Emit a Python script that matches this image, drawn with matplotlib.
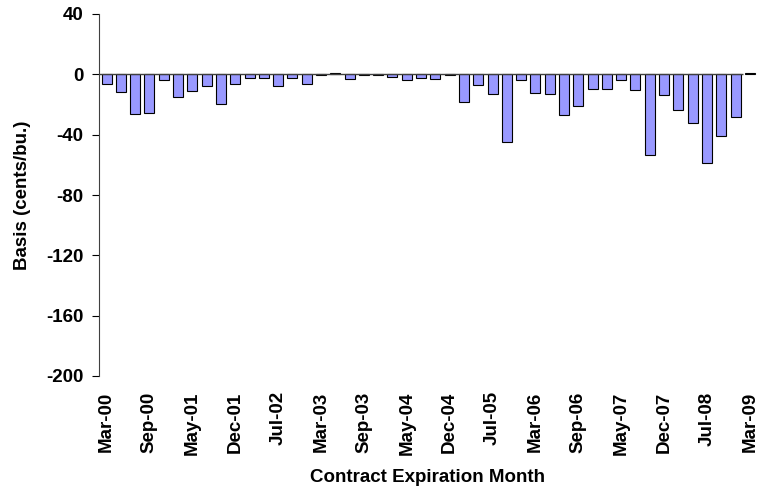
import matplotlib
matplotlib.use("Agg")
import matplotlib.pyplot as plt
import numpy as np

plt.rcParams['font.family'] = ['Liberation Sans', 'DejaVu Sans']

months = ["Mar", "May", "Jul", "Sep", "Dec"]
contracts = [f"{m}-{y:02d}" for y in range(0, 9) for m in months] + ["Mar-09"]

basis = [-6.2, -11.8, -26.0, -25.5, -4.0,
         -15.0, -11.3, -7.8, -20.0, -6.2,
         -2.2, -2.2, -7.8, -2.2, -6.2,
         -0.5, 1.0, -3.0, -0.5, -0.5,
         -1.8, -3.5, -2.2, -2.9, -0.5,
         -18.4, -7.3, -12.9, -44.9, -3.5,
         -12.4, -13.3, -26.7, -20.7, -9.5,
         -9.5, -4.0, -10.7, -53.3, -14.0,
         -23.5, -32.2, -58.9, -41.1, -28.4,
         1.0]

tick_labels = contracts[::3]
yticks = list(range(-200, 41, 40))

fig = plt.figure(figsize=(7.58, 4.88), dpi=100)
ax = fig.add_axes([99/758, 1-376/488, (757-99)/758, (376-14)/488])

x = np.arange(len(basis))
ax.bar(x, basis, width=0.7, color="#9999FF", edgecolor="black", linewidth=0.8, zorder=2)
xmin, xmax = -0.53, 45.5
ax.hlines(0, xmin, len(basis) - 1.5, color="#404040", linewidth=1.0, zorder=3)

ax.set_ylim(-200, 40)
ax.set_xlim(xmin, xmax)
ax.set_yticks(yticks)
ax.set_yticklabels([str(v) for v in yticks], fontsize=13.5, fontweight="bold")
ax.set_xticks(x[::3])
ax.set_xticklabels(tick_labels, rotation=90, fontsize=13.5, fontweight="bold")
ax.tick_params(axis="x", length=0, pad=11)
ax.tick_params(axis="y", length=5, width=0.8, direction="out", pad=6)

for s in ["top", "right", "bottom"]:
    ax.spines[s].set_visible(False)
ax.spines["left"].set_linewidth(0.8)
ax.spines["left"].set_color("#404040")

ax.set_ylabel("Basis (cents/bu.)", fontsize=13.5, fontweight="bold", labelpad=11)
ax.set_xlabel("Contract Expiration Month", fontsize=13.5, fontweight="bold", labelpad=10)

fig.savefig("out.png", dpi=100)
